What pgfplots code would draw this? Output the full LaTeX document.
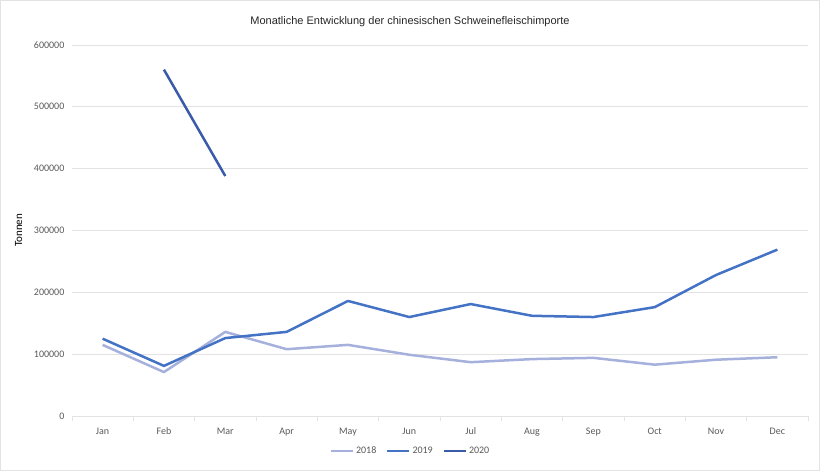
\documentclass[border=0pt]{standalone}
\usepackage{pgfplots}
\pgfplotsset{compat=1.18}
\usepackage{fontspec}
\setmainfont{Carlito}
\newfontfamily\titlefont{Liberation Sans}
\definecolor{c18}{HTML}{A5B1DC}
\definecolor{c19}{HTML}{4472C4}
\definecolor{c20}{HTML}{3A5CA8}
\definecolor{gridc}{HTML}{E3E3E3}
\definecolor{tickc}{HTML}{595959}
\begin{document}
\begin{tikzpicture}[x=1pt,y=1pt]
\path[draw=gridc, line width=0.8pt] (0.5,0.5) rectangle (819.5,470.5);
\begin{axis}[
  at={(72pt,55pt)}, anchor=south west,
  scale only axis, width=736pt, height=371pt,
  xmin=-0.5, xmax=11.5, ymin=0, ymax=600000,
  xtick={0,...,11},
  xticklabels={Jan,Feb,Mar,Apr,May,Jun,Jul,Aug,Sep,Oct,Nov,Dec},
  minor xtick={-0.5,0.5,...,11.5},
  ytick={0,100000,...,600000},
  scaled y ticks=false,
  yticklabel={\pgfmathprintnumber[fixed,precision=0,1000 sep={}]{\tick}},
  /pgf/number format/assume math mode=true,
  ymajorgrids, grid style={gridc, line width=0.8pt},
  axis x line*=bottom, axis y line*=left,
  y axis line style={draw=none},
  x axis line style={gridc, line width=0.8pt, -},
  major x tick style={draw=none},
  major y tick style={draw=none},
  minor x tick style={gridc, line width=0.8pt},
  minor tick length=5pt,
  xtick align=outside,
  tick label style={font=\fontsize{10}{12}\selectfont, color=tickc},
  xticklabel style={yshift=-4pt},
  yticklabel style={xshift=-4pt},
  ylabel={Tonnen}, ylabel style={font=\fontsize{11}{13}\selectfont, at={(ticklabel cs:0.5)}, yshift=5pt},
  clip=false,
  legend style={at={(0.46,-0.095)}, anchor=center, draw=none, legend columns=3,
    font=\fontsize{10}{12}\selectfont, text=tickc,
    /tikz/every even column/.append style={column sep=8pt}},
  legend image code/.code={\draw[#1, line width=2.2pt] (0pt,0pt) -- (22pt,0pt);},
  every axis plot/.append style={line width=2.5pt, line join=round},
]
\addplot[c18] coordinates {(0,115000)(1,71000)(2,136000)(3,108000)(4,115000)(5,99000)(6,87000)(7,92000)(8,94000)(9,83000)(10,91000)(11,95000)};
\addlegendentry{2018}
\addplot[c19] coordinates {(0,125000)(1,81000)(2,126000)(3,136000)(4,186000)(5,160000)(6,181000)(7,162000)(8,160000)(9,176000)(10,228000)(11,269000)};
\addlegendentry{2019}
\addplot[c20] coordinates {(1,560000)(2,388000)};
\addlegendentry{2020}
\end{axis}
\node[font=\titlefont\fontsize{11}{13}\selectfont, text=black!85] at (410,449) {Monatliche Entwicklung der chinesischen Schweinefleischimporte};
\end{tikzpicture}
\end{document}
